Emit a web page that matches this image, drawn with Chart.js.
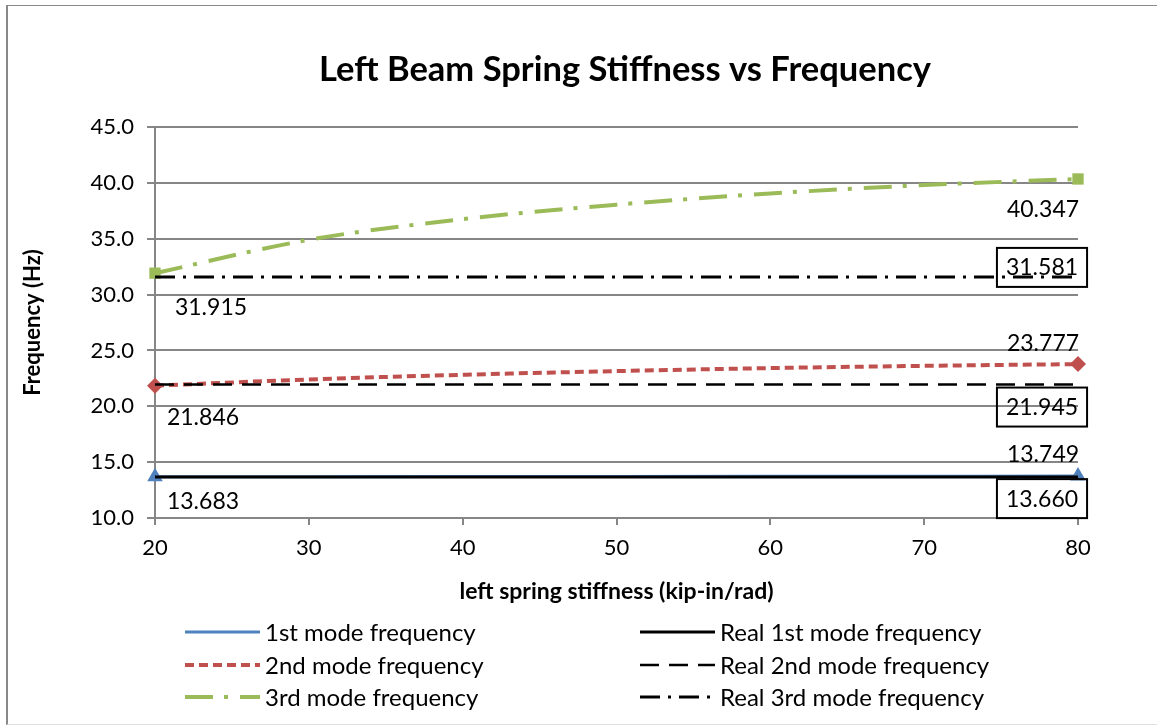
<!DOCTYPE html>
<html>
<head>
<meta charset="utf-8">
<script src="https://cdn.jsdelivr.net/npm/chart.js@4.4.1/dist/chart.umd.min.js"></script>
<style>
  body { margin: 0; background: #fff; }
  #wrap { position: relative; width: 1157px; height: 726px; }
  #frame { position: absolute; left: 6px; top: 5px; width: 1160px; height: 718px;
           border-left: 2px solid #898989; border-top: 1px solid #898989; border-bottom: 1px solid #e0e0e0; }
  canvas { position: absolute; left: 0; top: 0; }
</style>
</head>
<body>
<div id="wrap">
  <div id="frame"></div>
  <canvas id="chart" width="1157" height="726"></canvas>
</div>
<script>
// stiffness values (kip-in/rad)
var stiffness = [20, 30, 40, 50, 60, 70, 80];
var mode1 = [13.683, 13.695, 13.707, 13.719, 13.730, 13.740, 13.749];
var mode2 = [21.846, 22.40, 22.82, 23.15, 23.42, 23.62, 23.777];
var mode3 = [31.915, 34.90, 36.75, 38.05, 39.05, 39.80, 40.347];
var realX = [20, 80];
var real1 = [13.660, 13.660];
var real2 = [21.945, 21.945];
var real3 = [31.581, 31.581];
var seriesNames = ['1st mode frequency', '2nd mode frequency', '3rd mode frequency',
                   'Real 1st mode frequency', 'Real 2nd mode frequency', 'Real 3rd mode frequency'];
var yTicks = [10, 15, 20, 25, 30, 35, 40, 45];
var xTicks = [20, 30, 40, 50, 60, 70, 80];

var FONT = 'Lato, "Open Sans", sans-serif';
var GRID = '#868686';

function pts(xs, ys) {
  return xs.map(function (x, i) { return { x: x, y: ys[i] }; });
}
function endMarkers(n, r) {
  return stiffness.map(function (x, i) { return (i === 0 || i === n - 1) ? r : 0; });
}

var styles = [
  { color: '#4F81BD', width: 3, dash: [], marker: 'triangle', size: 9 },
  { color: '#C0504D', width: 4, dash: [9, 5], marker: 'rectRot', size: 8 },
  { color: '#9BBB59', width: 4, dash: [28, 11, 4, 12], marker: 'rect', size: 8 },
  { color: '#000000', width: 3, dash: [] },
  { color: '#000000', width: 2.5, dash: [19, 10] },
  { color: '#000000', width: 3, dash: [20, 8, 3, 8] }
];

// label placement per series: [dx, dy] from the point, and whether boxed
var labelPlace = {
  0: { first: [48, 24], last: [-35, -23] },
  1: { first: [48, 31], last: [-35, -22] },
  2: { first: [56, 33], last: [-35, 30] },
  3: { last: [-36, 21], box: true },
  4: { last: [-36, 22], box: true },
  5: { last: [-36, -10], box: true }
};

var datasets = [mode1, mode2, mode3].map(function (ys, i) {
  var s = styles[i];
  return {
    label: seriesNames[i],
    data: pts(stiffness, ys),
    borderColor: s.color,
    backgroundColor: s.color,
    borderWidth: s.width,
    borderDash: s.dash,
    pointStyle: s.marker,
    pointRadius: endMarkers(stiffness.length, s.size),
    pointBorderWidth: 0,
    pointBackgroundColor: s.color,
    cubicInterpolationMode: 'monotone',
    clip: false,
    fill: false,
    order: 2
  };
}).concat([real1, real2, real3].map(function (ys, i) {
  var s = styles[i + 3];
  return {
    label: seriesNames[i + 3],
    data: pts(realX, ys),
    borderColor: s.color,
    backgroundColor: s.color,
    borderWidth: s.width,
    borderDash: s.dash,
    pointRadius: 0,
    clip: false,
    fill: false,
    order: 1
  };
}));

var extras = {
  id: 'extras',
  afterDatasetsDraw: function (chart) {
    var ctx = chart.ctx;
    var xs = chart.scales.x, ys = chart.scales.y;
    ctx.save();
    ctx.font = '23px ' + FONT;
    ctx.textAlign = 'center';
    ctx.textBaseline = 'middle';
    chart.data.datasets.forEach(function (ds, i) {
      var place = labelPlace[i];
      var d = ds.data;
      [['first', d[0]], ['last', d[d.length - 1]]].forEach(function (p) {
        var off = place[p[0]];
        if (!off) return;
        var px = xs.getPixelForValue(p[1].x) + off[0];
        var py = ys.getPixelForValue(p[1].y) + off[1];
        var txt = p[1].y.toFixed(3);
        if (place.box) {
          var w = ctx.measureText(txt).width + 18;
          ctx.strokeStyle = '#000';
          ctx.lineWidth = 2;
          ctx.setLineDash([]);
          ctx.strokeRect(px - w / 2, py - 19, w, 39);
        }
        ctx.fillStyle = '#000';
        ctx.fillText(txt, px, py + 1);
      });
    });
    ctx.restore();
  },
  afterDraw: function (chart) {
    var ctx = chart.ctx;
    ctx.save();
    // title
    ctx.font = 'bold 34.5px ' + FONT;
    ctx.fillStyle = '#000';
    ctx.textAlign = 'center';
    ctx.textBaseline = 'middle';
    ctx.fillText('Left Beam Spring Stiffness vs Frequency', 625, 70);
    // legend (two columns)
    var cols = [185, 640];
    var rows = [632, 665, 697];
    ctx.font = '24px ' + FONT;
    ctx.textAlign = 'left';
    chart.data.datasets.forEach(function (ds, i) {
      var c = i < 3 ? 0 : 1;
      var r = i % 3;
      var x0 = cols[c], y0 = rows[r];
      ctx.strokeStyle = ds.borderColor;
      ctx.lineWidth = ds.borderWidth;
      ctx.setLineDash(ds.borderDash || []);
      ctx.beginPath();
      ctx.moveTo(x0, y0);
      ctx.lineTo(x0 + 75, y0);
      ctx.stroke();
      ctx.setLineDash([]);
      ctx.fillStyle = '#000';
      ctx.fillText(ds.label, x0 + 80, y0 + 1);
    });
    ctx.restore();
  }
};

new Chart(document.getElementById('chart'), {
  type: 'line',
  data: { datasets: datasets },
  plugins: [extras],
  options: {
    responsive: false,
    animation: false,
    layout: { padding: { left: 20, right: 79, top: 127, bottom: 121 } },
    plugins: { legend: { display: false }, title: { display: false }, tooltip: { enabled: false } },
    scales: {
      x: {
        type: 'linear',
        min: 20, max: 80,
        afterBuildTicks: function (s) { s.ticks = xTicks.map(function (v) { return { value: v }; }); },
        afterFit: function (s) { s.height = 87; },
        grid: { drawOnChartArea: false, drawTicks: true, tickLength: 7, color: GRID, lineWidth: 2 },
        border: { color: GRID, width: 2 },
        ticks: { color: '#000', font: { family: FONT, size: 22 }, padding: 10, maxRotation: 0 },
        title: { display: true, text: 'left spring stiffness (kip-in/rad)', color: '#000',
                 font: { family: FONT, size: 23, weight: 'bold' }, padding: 0 }
      },
      y: {
        min: 10, max: 45,
        afterBuildTicks: function (s) { s.ticks = yTicks.map(function (v) { return { value: v }; }); },
        afterFit: function (s) { s.width = 135; },
        grid: { color: GRID, lineWidth: 2, tickLength: 8 },
        border: { color: GRID, width: 2 },
        ticks: { color: '#000', font: { family: FONT, size: 22 }, padding: 13,
                 callback: function (v) { return Number(v).toFixed(1); } },
        title: { display: true, text: 'Frequency (Hz)', color: '#000',
                 font: { family: FONT, size: 22, weight: 'bold' }, padding: 0 }
      }
    }
  }
});
</script>
</body>
</html>
